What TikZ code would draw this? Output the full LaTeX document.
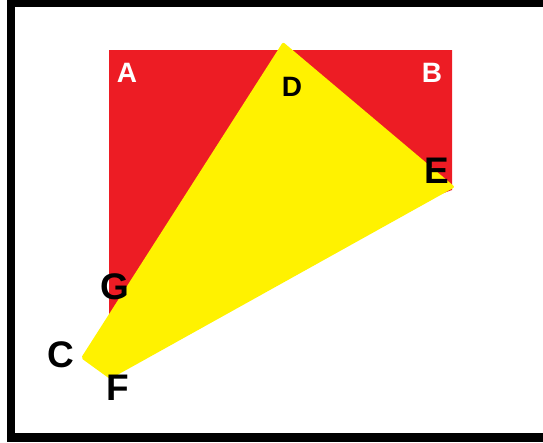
\documentclass[tikz,border=0pt]{standalone}
\usepackage{fontspec}
\setmainfont{Liberation Sans}
\definecolor{paintred}{RGB}{237,28,36}
\definecolor{paintyellow}{RGB}{255,242,0}
\tikzset{
  frameedge/.style={fill=black},
  redpart/.style={fill=paintred},
  yellowpart/.style={fill=paintyellow, rounded corners=2pt},
  whitelab/.style={text=white, inner sep=0pt,
                   font=\fontsize{28}{28}\selectfont\bfseries},
  smalllab/.style={text=black, inner sep=0pt,
                   font=\fontsize{28}{28}\selectfont\bfseries},
  biglab/.style={text=black, inner sep=0pt,
                 font=\fontsize{37}{37}\selectfont\bfseries},
}
\begin{document}
\begin{tikzpicture}[x=1pt,y=-1pt]
  \path[use as bounding box] (0,0) rectangle (543,442);

  % frame
  \fill[frameedge] (7,0) rectangle (543,7);
  \fill[frameedge] (7,0) rectangle (15,442);
  \fill[frameedge] (7,433) rectangle (543,442);

  % corners of the red sheet and of the yellow piece
  \coordinate (A) at (109,50);
  \coordinate (B) at (452,50);
  \coordinate (D) at (283,42);
  \coordinate (E) at (455,187);
  \coordinate (F) at (110,379);
  \coordinate (C) at (81,358);

  \fill[redpart] (A) -- (B) -- (452,190) -- (109,314) -- cycle;
  \fill[yellowpart] (D) -- (E) -- (F) -- (C) -- cycle;

  % labels
  \node[whitelab] (labA) at (127,73) {A};
  \node[whitelab] (labB) at (432,73) {B};
  \node[smalllab] (labD) at (292,87) {D};
  \node[biglab] (labE) at (437,171) {E};
  \node[biglab] (labG) at (115,287) {G};
  \node[biglab] (labC) at (61,355) {C};
  \node[biglab] (labF) at (118,388) {F};
\end{tikzpicture}
\end{document}
